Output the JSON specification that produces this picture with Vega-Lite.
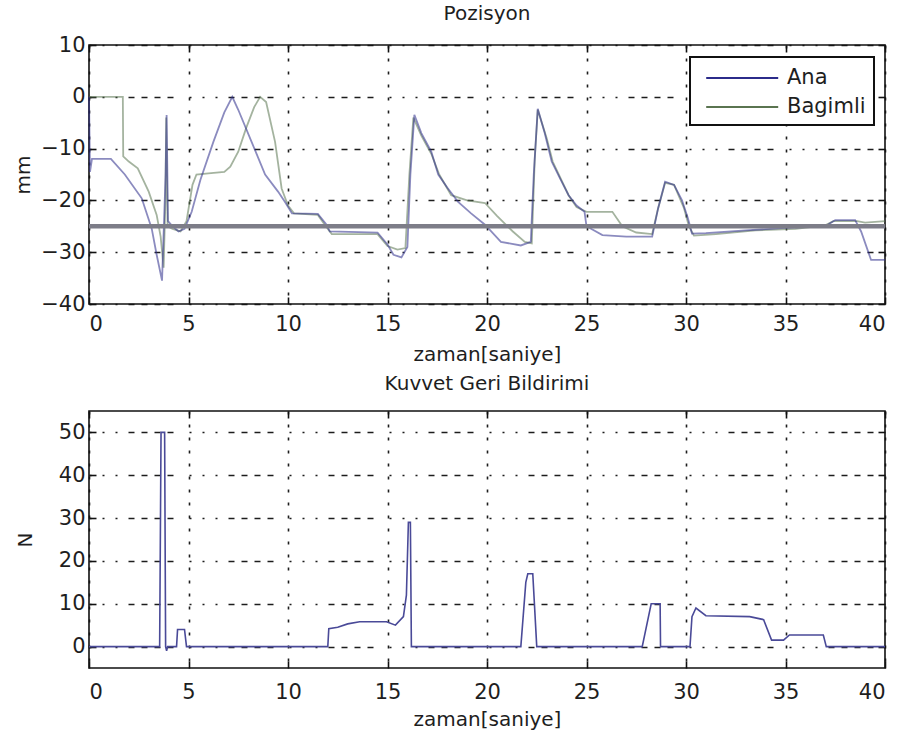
{
  "$schema": "https://vega.github.io/schema/vega-lite/v6.json",
  "background": "white",
  "padding": {"left": 12, "top": 3, "right": 0, "bottom": 0},
  "datasets": {
    "pozisyon": [
      {"zaman": 0, "mm": 0, "seri": "Bagimli"},
      {"zaman": 1.7, "mm": 0, "seri": "Bagimli"},
      {"zaman": 1.72, "mm": -11.5, "seri": "Bagimli"},
      {"zaman": 2.0, "mm": -12.5, "seri": "Bagimli"},
      {"zaman": 2.45, "mm": -13.8, "seri": "Bagimli"},
      {"zaman": 3.0, "mm": -18.3, "seri": "Bagimli"},
      {"zaman": 3.4, "mm": -22.8, "seri": "Bagimli"},
      {"zaman": 3.6, "mm": -27, "seri": "Bagimli"},
      {"zaman": 3.75, "mm": -33, "seri": "Bagimli"},
      {"zaman": 3.84, "mm": -20, "seri": "Bagimli"},
      {"zaman": 3.88, "mm": -4, "seri": "Bagimli"},
      {"zaman": 3.95, "mm": -25, "seri": "Bagimli"},
      {"zaman": 4.2, "mm": -25.5, "seri": "Bagimli"},
      {"zaman": 4.6, "mm": -26, "seri": "Bagimli"},
      {"zaman": 4.9, "mm": -24, "seri": "Bagimli"},
      {"zaman": 5.2, "mm": -17, "seri": "Bagimli"},
      {"zaman": 5.4, "mm": -15, "seri": "Bagimli"},
      {"zaman": 6.0, "mm": -14.8, "seri": "Bagimli"},
      {"zaman": 6.8, "mm": -14.5, "seri": "Bagimli"},
      {"zaman": 7.1, "mm": -13.5, "seri": "Bagimli"},
      {"zaman": 7.5, "mm": -10.6, "seri": "Bagimli"},
      {"zaman": 7.9, "mm": -6, "seri": "Bagimli"},
      {"zaman": 8.3, "mm": -2, "seri": "Bagimli"},
      {"zaman": 8.6, "mm": 0, "seri": "Bagimli"},
      {"zaman": 8.9, "mm": -1, "seri": "Bagimli"},
      {"zaman": 9.35, "mm": -8.7, "seri": "Bagimli"},
      {"zaman": 9.68, "mm": -17.7, "seri": "Bagimli"},
      {"zaman": 10.0, "mm": -21, "seri": "Bagimli"},
      {"zaman": 10.3, "mm": -22.5, "seri": "Bagimli"},
      {"zaman": 11.5, "mm": -22.8, "seri": "Bagimli"},
      {"zaman": 11.9, "mm": -25, "seri": "Bagimli"},
      {"zaman": 12.2, "mm": -26.5, "seri": "Bagimli"},
      {"zaman": 14.5, "mm": -26.5, "seri": "Bagimli"},
      {"zaman": 15.0, "mm": -28.8, "seri": "Bagimli"},
      {"zaman": 15.5, "mm": -29.5, "seri": "Bagimli"},
      {"zaman": 15.9, "mm": -29.2, "seri": "Bagimli"},
      {"zaman": 16.1, "mm": -15, "seri": "Bagimli"},
      {"zaman": 16.3, "mm": -4, "seri": "Bagimli"},
      {"zaman": 16.7, "mm": -7.5, "seri": "Bagimli"},
      {"zaman": 17.2, "mm": -11, "seri": "Bagimli"},
      {"zaman": 17.6, "mm": -15, "seri": "Bagimli"},
      {"zaman": 18.2, "mm": -19, "seri": "Bagimli"},
      {"zaman": 19.0, "mm": -20, "seri": "Bagimli"},
      {"zaman": 19.9, "mm": -20.5, "seri": "Bagimli"},
      {"zaman": 20.5, "mm": -23, "seri": "Bagimli"},
      {"zaman": 21.3, "mm": -26, "seri": "Bagimli"},
      {"zaman": 21.9, "mm": -28, "seri": "Bagimli"},
      {"zaman": 22.25, "mm": -28.3, "seri": "Bagimli"},
      {"zaman": 22.4, "mm": -12, "seri": "Bagimli"},
      {"zaman": 22.55, "mm": -2.5, "seri": "Bagimli"},
      {"zaman": 23.0, "mm": -8, "seri": "Bagimli"},
      {"zaman": 23.3, "mm": -12.5, "seri": "Bagimli"},
      {"zaman": 24.1, "mm": -19, "seri": "Bagimli"},
      {"zaman": 24.5, "mm": -21.3, "seri": "Bagimli"},
      {"zaman": 25.0, "mm": -22.2, "seri": "Bagimli"},
      {"zaman": 26.3, "mm": -22.2, "seri": "Bagimli"},
      {"zaman": 26.8, "mm": -25, "seri": "Bagimli"},
      {"zaman": 27.5, "mm": -26.2, "seri": "Bagimli"},
      {"zaman": 28.3, "mm": -26.5, "seri": "Bagimli"},
      {"zaman": 28.6, "mm": -21.5, "seri": "Bagimli"},
      {"zaman": 28.95, "mm": -16.6, "seri": "Bagimli"},
      {"zaman": 29.4, "mm": -17, "seri": "Bagimli"},
      {"zaman": 29.9, "mm": -21.5, "seri": "Bagimli"},
      {"zaman": 30.15, "mm": -25, "seri": "Bagimli"},
      {"zaman": 30.4, "mm": -26.8, "seri": "Bagimli"},
      {"zaman": 31.5, "mm": -26.5, "seri": "Bagimli"},
      {"zaman": 33.5, "mm": -25.8, "seri": "Bagimli"},
      {"zaman": 35.5, "mm": -25.5, "seri": "Bagimli"},
      {"zaman": 37.0, "mm": -24.8, "seri": "Bagimli"},
      {"zaman": 37.4, "mm": -24, "seri": "Bagimli"},
      {"zaman": 38.6, "mm": -24, "seri": "Bagimli"},
      {"zaman": 39.0, "mm": -24.3, "seri": "Bagimli"},
      {"zaman": 40.0, "mm": -24, "seri": "Bagimli"},

      {"zaman": 0, "mm": 0, "seri": "Ana"},
      {"zaman": 0.05, "mm": -14.5, "seri": "Ana"},
      {"zaman": 0.15, "mm": -12, "seri": "Ana"},
      {"zaman": 1.1, "mm": -12, "seri": "Ana"},
      {"zaman": 1.8, "mm": -15, "seri": "Ana"},
      {"zaman": 2.65, "mm": -19.6, "seri": "Ana"},
      {"zaman": 3.15, "mm": -25.4, "seri": "Ana"},
      {"zaman": 3.4, "mm": -30.5, "seri": "Ana"},
      {"zaman": 3.67, "mm": -35.5, "seri": "Ana"},
      {"zaman": 3.85, "mm": -15, "seri": "Ana"},
      {"zaman": 3.9, "mm": -3.5, "seri": "Ana"},
      {"zaman": 3.97, "mm": -24, "seri": "Ana"},
      {"zaman": 4.2, "mm": -25, "seri": "Ana"},
      {"zaman": 4.5, "mm": -26, "seri": "Ana"},
      {"zaman": 4.8, "mm": -25.5, "seri": "Ana"},
      {"zaman": 5.16, "mm": -22.2, "seri": "Ana"},
      {"zaman": 5.6, "mm": -16, "seri": "Ana"},
      {"zaman": 6.25, "mm": -8.7, "seri": "Ana"},
      {"zaman": 6.8, "mm": -3, "seri": "Ana"},
      {"zaman": 7.2, "mm": 0, "seri": "Ana"},
      {"zaman": 7.5, "mm": -2.5, "seri": "Ana"},
      {"zaman": 8.17, "mm": -8.7, "seri": "Ana"},
      {"zaman": 8.85, "mm": -15, "seri": "Ana"},
      {"zaman": 9.5, "mm": -18.3, "seri": "Ana"},
      {"zaman": 9.85, "mm": -20.3, "seri": "Ana"},
      {"zaman": 10.2, "mm": -22.5, "seri": "Ana"},
      {"zaman": 11.5, "mm": -22.6, "seri": "Ana"},
      {"zaman": 11.9, "mm": -24.5, "seri": "Ana"},
      {"zaman": 12.1, "mm": -26, "seri": "Ana"},
      {"zaman": 14.5, "mm": -26.2, "seri": "Ana"},
      {"zaman": 15.0, "mm": -28.5, "seri": "Ana"},
      {"zaman": 15.3, "mm": -30.5, "seri": "Ana"},
      {"zaman": 15.7, "mm": -31, "seri": "Ana"},
      {"zaman": 16.0, "mm": -29, "seri": "Ana"},
      {"zaman": 16.15, "mm": -15, "seri": "Ana"},
      {"zaman": 16.35, "mm": -3.5, "seri": "Ana"},
      {"zaman": 16.7, "mm": -7, "seri": "Ana"},
      {"zaman": 17.2, "mm": -10.6, "seri": "Ana"},
      {"zaman": 17.55, "mm": -15, "seri": "Ana"},
      {"zaman": 18.0, "mm": -17.5, "seri": "Ana"},
      {"zaman": 18.55, "mm": -20.3, "seri": "Ana"},
      {"zaman": 19.2, "mm": -22.5, "seri": "Ana"},
      {"zaman": 19.9, "mm": -24.7, "seri": "Ana"},
      {"zaman": 20.7, "mm": -28, "seri": "Ana"},
      {"zaman": 21.7, "mm": -28.7, "seri": "Ana"},
      {"zaman": 22.2, "mm": -28, "seri": "Ana"},
      {"zaman": 22.35, "mm": -15, "seri": "Ana"},
      {"zaman": 22.55, "mm": -2.3, "seri": "Ana"},
      {"zaman": 22.9, "mm": -7, "seri": "Ana"},
      {"zaman": 23.25, "mm": -12.5, "seri": "Ana"},
      {"zaman": 23.7, "mm": -16, "seri": "Ana"},
      {"zaman": 24.1, "mm": -19, "seri": "Ana"},
      {"zaman": 24.5, "mm": -21, "seri": "Ana"},
      {"zaman": 24.9, "mm": -22.2, "seri": "Ana"},
      {"zaman": 25.0, "mm": -25, "seri": "Ana"},
      {"zaman": 25.8, "mm": -26.7, "seri": "Ana"},
      {"zaman": 27.0, "mm": -27, "seri": "Ana"},
      {"zaman": 28.3, "mm": -27, "seri": "Ana"},
      {"zaman": 28.6, "mm": -21.5, "seri": "Ana"},
      {"zaman": 28.95, "mm": -16.4, "seri": "Ana"},
      {"zaman": 29.4, "mm": -17, "seri": "Ana"},
      {"zaman": 29.8, "mm": -20, "seri": "Ana"},
      {"zaman": 30.1, "mm": -23.5, "seri": "Ana"},
      {"zaman": 30.3, "mm": -26.4, "seri": "Ana"},
      {"zaman": 31.0, "mm": -26.3, "seri": "Ana"},
      {"zaman": 33.0, "mm": -25.8, "seri": "Ana"},
      {"zaman": 35.0, "mm": -25.3, "seri": "Ana"},
      {"zaman": 37.0, "mm": -25, "seri": "Ana"},
      {"zaman": 37.5, "mm": -23.8, "seri": "Ana"},
      {"zaman": 38.5, "mm": -23.8, "seri": "Ana"},
      {"zaman": 38.8, "mm": -26, "seri": "Ana"},
      {"zaman": 39.3, "mm": -31.5, "seri": "Ana"},
      {"zaman": 40.0, "mm": -31.5, "seri": "Ana"}
    ],
    "referans": [{"mm": -25}],
    "kuvvet": [
      {"zaman": 0, "N": 0},
      {"zaman": 3.55, "N": 0},
      {"zaman": 3.62, "N": 50},
      {"zaman": 3.8, "N": 50},
      {"zaman": 3.85, "N": 0},
      {"zaman": 3.9, "N": -1},
      {"zaman": 3.95, "N": 0},
      {"zaman": 4.4, "N": 0},
      {"zaman": 4.45, "N": 4},
      {"zaman": 4.8, "N": 4},
      {"zaman": 4.9, "N": 0},
      {"zaman": 12.0, "N": 0},
      {"zaman": 12.05, "N": 4.2},
      {"zaman": 12.5, "N": 4.5},
      {"zaman": 13.0, "N": 5.3},
      {"zaman": 13.6, "N": 5.8},
      {"zaman": 14.95, "N": 5.8},
      {"zaman": 15.4, "N": 5.0},
      {"zaman": 15.8, "N": 7},
      {"zaman": 15.95, "N": 12},
      {"zaman": 16.05, "N": 29},
      {"zaman": 16.15, "N": 29},
      {"zaman": 16.2, "N": 0},
      {"zaman": 21.7, "N": 0},
      {"zaman": 21.95, "N": 15},
      {"zaman": 22.05, "N": 17},
      {"zaman": 22.3, "N": 17},
      {"zaman": 22.5, "N": 0},
      {"zaman": 27.8, "N": 0},
      {"zaman": 28.25, "N": 10},
      {"zaman": 28.7, "N": 10},
      {"zaman": 28.72, "N": 0},
      {"zaman": 30.2, "N": 0},
      {"zaman": 30.3, "N": 7},
      {"zaman": 30.5, "N": 9},
      {"zaman": 31.0, "N": 7.2},
      {"zaman": 33.2, "N": 7},
      {"zaman": 33.9, "N": 6.3},
      {"zaman": 34.3, "N": 1.5},
      {"zaman": 34.9, "N": 1.5},
      {"zaman": 35.2, "N": 2.7},
      {"zaman": 36.9, "N": 2.7},
      {"zaman": 37.05, "N": 0},
      {"zaman": 40.0, "N": 0}
    ]
  },
  "config": {
    "font": "DejaVu Sans",
    "view": {"stroke": "#111111", "strokeWidth": 1.6},
    "axis": {
      "domain": false,
      "labelFont": "DejaVu Sans",
      "labelFontSize": 21,
      "labelColor": "#1e1e1e",
      "titleFont": "DejaVu Sans",
      "titleFontSize": 20,
      "titleFontWeight": "normal",
      "titleColor": "#1e1e1e",
      "tickColor": "#111111",
      "tickWidth": 1.6,
      "tickSize": -7,
      "gridColor": "#111111",
      "gridWidth": 1.6,
      "gridOpacity": 0.95
    },
    "axisX": {"gridDash": [3, 10]},
    "axisY": {"gridDash": [2, 11, 2, 11, 2, 11, 6, 7, 6, 7, 6, 7, 6, 16]},
    "title": {"font": "DejaVu Sans", "fontSize": 20, "fontWeight": "normal", "color": "#1e1e1e"},
    "legend": {"strokeWidth": 2}
  },
  "spacing": 107,
  "bounds": "flush",
  "vconcat": [
    {
      "width": 796,
      "height": 259,
      "title": {"text": "Pozisyon", "offset": 10},
      "resolve": {"axis": {"x": "independent", "y": "independent"}},
      "layer": [
        {
          "data": {"name": "pozisyon"},
          "mark": {"type": "line", "strokeWidth": 1.8, "strokeOpacity": 0.55},
          "encoding": {
            "x": {
              "field": "zaman", "type": "quantitative",
              "scale": {"domain": [0, 40], "nice": false},
              "axis": {"orient": "bottom", "values": [0, 5, 10, 15, 20, 25, 30, 35, 40], "title": "zaman[saniye]", "grid": true, "labelPadding": 16, "titlePadding": 10}
            },
            "y": {
              "field": "mm", "type": "quantitative",
              "scale": {"domain": [-40, 10], "nice": false},
              "axis": {"orient": "left", "values": [-40, -30, -20, -10, 0, 10], "title": "mm", "grid": true, "labelPadding": 11, "titlePadding": 7}
            },
            "color": {
              "field": "seri", "type": "nominal",
              "scale": {"domain": ["Ana", "Bagimli"], "range": ["#2b2b8a", "#5a7450"]},
              "legend": {
                "orient": "none", "legendX": 601, "legendY": 12, "title": null,
                "symbolType": "M-0.4,0H5.6", "symbolSize": 576, "symbolStrokeWidth": 2, "symbolOpacity": 1,
                "labelFont": "DejaVu Sans", "labelFontSize": 21, "labelColor": "#1e1e1e", "labelOffset": 63,
                "strokeColor": "#111111", "fillColor": "white", "padding": 8, "rowPadding": 6
              }
            }
          }
        },
        {
          "data": {"name": "referans"},
          "mark": {"type": "rule", "color": "#7d7d88", "strokeWidth": 4.5},
          "encoding": {
            "y": {"field": "mm", "type": "quantitative", "axis": {"orient": "right", "values": [-40, -30, -20, -10, 0, 10], "labels": false, "grid": false, "title": null}}
          }
        },
        {
          "data": {"name": "pozisyon"},
          "mark": {"type": "point", "opacity": 0},
          "encoding": {
            "x": {"field": "zaman", "type": "quantitative", "axis": {"orient": "top", "values": [0, 5, 10, 15, 20, 25, 30, 35, 40], "labels": false, "grid": false, "title": null}},
            "y": {"field": "mm", "type": "quantitative", "axis": null}
          }
        }
      ]
    },
    {
      "width": 796,
      "height": 257,
      "title": {"text": "Kuvvet Geri Bildirimi", "offset": 16},
      "resolve": {"axis": {"x": "independent", "y": "independent"}},
      "layer": [
        {
          "data": {"name": "kuvvet"},
          "mark": {"type": "line", "color": "#4a4a98", "strokeWidth": 1.6},
          "encoding": {
            "x": {
              "field": "zaman", "type": "quantitative",
              "scale": {"domain": [0, 40], "nice": false},
              "axis": {"orient": "bottom", "values": [0, 5, 10, 15, 20, 25, 30, 35, 40], "title": "zaman[saniye]", "grid": true, "labelPadding": 20, "titlePadding": 7}
            },
            "y": {
              "field": "N", "type": "quantitative",
              "scale": {"domain": [-5, 55], "nice": false},
              "axis": {"orient": "left", "values": [0, 10, 20, 30, 40, 50], "title": "N", "grid": true, "labelPadding": 11, "titlePadding": 23}
            }
          }
        },
        {
          "data": {"name": "kuvvet"},
          "mark": {"type": "point", "opacity": 0},
          "encoding": {
            "x": {"field": "zaman", "type": "quantitative", "axis": {"orient": "top", "values": [0, 5, 10, 15, 20, 25, 30, 35, 40], "labels": false, "grid": false, "title": null}},
            "y": {"field": "N", "type": "quantitative", "axis": {"orient": "right", "values": [0, 10, 20, 30, 40, 50], "labels": false, "grid": false, "title": null}}
          }
        }
      ]
    }
  ]
}
